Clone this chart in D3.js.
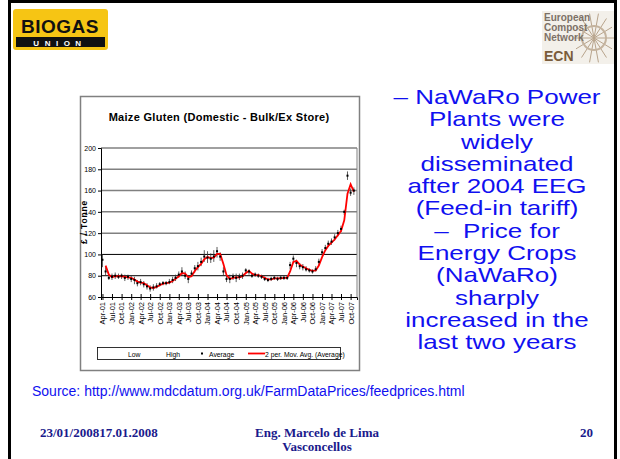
<!DOCTYPE html>
<html>
<head>
<meta charset="utf-8">
<script src="https://cdn.jsdelivr.net/npm/d3@7/dist/d3.min.js"></script>
<style>
body { margin: 0; background: #fff; }
svg text { font-family: Arial, "Liberation Sans", sans-serif; }
</style>
</head>
<body>
<div id="slide"></div>
<script>
const W = 620, H = 459;
const plotLeft = 101, plotRight = 357, plotTop = 148, plotBottom = 297;

// monthly prices Apr-01 .. Nov-07
const firstMonth = '2001-04';
const avgPrice = [
    95, 84, 78, 79, 80, 79, 80, 78, 79,
    77, 76, 73, 74, 72, 70, 68, 69, 70, 72, 73, 73,
    74, 76, 78, 81, 84, 80, 77, 82, 87, 89, 93, 98,
    97, 96, 98, 103, 98, 84, 77, 77, 79, 78, 79, 80,
    85, 84, 80, 81, 80, 79, 77, 76, 77, 78, 77, 78,
    78, 78, 90, 96, 92, 89, 88, 86, 85, 84, 86, 93,
    102, 106, 110, 112, 116, 120, 124, 140, 174, 158, 160
];
const lowPrice = [
    88, 80, 76, 76, 77, 77, 77, 75, 76,
    74, 72, 70, 71, 69, 67, 65, 66, 68, 70, 71, 71,
    72, 73, 75, 78, 80, 77, 73, 79, 83, 85, 89, 93,
    92, 92, 93, 97, 94, 80, 74, 73, 76, 74, 76, 77,
    82, 81, 78, 79, 78, 77, 75, 74, 75, 76, 75, 76,
    76, 76, 86, 92, 88, 86, 85, 84, 83, 82, 84, 90,
    99, 104, 107, 109, 113, 117, 121, 137, 170, 155, 156
];
const highPrice = [
    100, 88, 81, 82, 83, 82, 82, 81, 81,
    80, 79, 76, 77, 75, 73, 71, 72, 73, 74, 75, 75,
    77, 79, 81, 84, 88, 84, 80, 85, 90, 93, 97, 104,
    103, 101, 104, 107, 102, 88, 80, 81, 82, 82, 82, 83,
    87, 86, 82, 83, 82, 81, 79, 78, 79, 80, 79, 80,
    80, 80, 93, 99, 95, 92, 91, 89, 87, 86, 89, 96,
    105, 109, 113, 115, 119, 123, 127, 142, 178, 162, 163
];
const yTicks = [60, 80, 100, 120, 140, 160, 180, 200];
const quarterLabels = [
    'Apr-01', 'Jul-01', 'Oct-01', 'Jan-02', 'Apr-02', 'Jul-02', 'Oct-02',
    'Jan-03', 'Apr-03', 'Jul-03', 'Oct-03', 'Jan-04', 'Apr-04', 'Jul-04', 'Oct-04',
    'Jan-05', 'Apr-05', 'Jul-05', 'Oct-05', 'Jan-06', 'Apr-06', 'Jul-06', 'Oct-06',
    'Jan-07', 'Apr-07', 'Jul-07', 'Oct-07'
];
const legendItems = ['Low', 'High', 'Average', '2 per. Mov. Avg. (Average)'];

const block1 = ['– NaWaRo Power', 'Plants were', 'widely', 'disseminated', 'after 2004 EEG', '(Feed-in tariff)'];
const block2 = ['–  Price for', 'Energy Crops', '(NaWaRo)', 'sharply', 'increased in the', 'last two years'];

const blue = '#1010f0', navy = '#1a1a8c';

let svg = d3.select('#slide').append('svg')
    .attr('width', W).attr('height', H);

// slide frame
svg.append('rect').attr('x', 9.5).attr('y', 1.5).attr('width', 606).attr('height', H + 10)
    .attr('fill', 'none').attr('stroke', '#000').attr('stroke-width', 3);

// ---- BIOGAS UNION logo
let bio = svg.append('g');
bio.append('rect').attr('x', 13).attr('y', 9).attr('width', 95).attr('height', 41).attr('rx', 3)
    .attr('fill', '#f6c514');
bio.append('text').attr('x', 60).attr('y', 33).attr('text-anchor', 'middle')
    .attr('font-size', 19).attr('font-weight', 'bold').attr('letter-spacing', 0.5)
    .attr('fill', '#111').text('BIOGAS');
bio.append('rect').attr('x', 16).attr('y', 37).attr('width', 89).attr('height', 10).attr('fill', '#111');
bio.append('text').attr('x', 60).attr('y', 45.5).attr('text-anchor', 'middle')
    .attr('font-size', 8).attr('font-weight', 'bold').attr('letter-spacing', 5.5)
    .attr('fill', '#fff').text('UNION');

// ---- ECN logo
let ecn = svg.append('g');
ecn.append('rect').attr('x', 542).attr('y', 11).attr('width', 72).attr('height', 53).attr('fill', '#f3f0ea');
d3.range(14).forEach(i => {
    let a = i / 14 * 2 * Math.PI;
    ecn.append('line').attr('x1', 594).attr('y1', 38)
        .attr('x2', 594 + Math.cos(a) * 20).attr('y2', 38 + Math.sin(a) * 25)
        .attr('stroke', '#b8a48c').attr('stroke-width', 1);
});
ecn.append('circle').attr('cx', 594).attr('cy', 38).attr('r', 12)
    .attr('fill', 'none').attr('stroke', '#c4b39e').attr('stroke-width', 2);
['European', 'Compost', 'Network'].forEach((t, i) => {
    ecn.append('text').attr('x', 544).attr('y', 21 + i * 10).attr('font-size', 10)
        .attr('font-weight', 'bold').attr('fill', '#7d7166').text(t);
});
ecn.append('text').attr('x', 544).attr('y', 61).attr('font-size', 14)
    .attr('font-weight', 'bold').attr('fill', '#7a5c3a').text('ECN');

// ---- chart
let chart = svg.append('g');
chart.append('rect').attr('x', 80.5).attr('y', 96.5).attr('width', 279).attr('height', 274)
    .attr('fill', '#fff').attr('stroke', '#808080').attr('stroke-width', 1.5);
chart.append('text').attr('x', 219).attr('y', 121).attr('text-anchor', 'middle')
    .attr('font-size', 11).attr('font-weight', 'bold').attr('letter-spacing', 0.3)
    .text('Maize Gluten (Domestic - Bulk/Ex Store)');

let parseMonth = d3.timeParse('%Y-%m');
let parseQuarter = d3.timeParse('%b-%y');
let months = avgPrice.map((d, i) => d3.timeMonth.offset(parseMonth(firstMonth), i));

let x = d3.scaleTime()
    .domain([new Date(2001, 2, 18), new Date(2007, 11, 1)])
    .range([plotLeft, plotRight]);
let y = d3.scaleLinear().domain([60, 200]).range([plotBottom, plotTop]);

// gridlines - the lower ones come out darker in the picture
chart.append('g').selectAll('line').data(yTicks.slice(1)).join('line')
    .attr('x1', plotLeft).attr('x2', plotRight)
    .attr('y1', d => y(d)).attr('y2', d => y(d))
    .attr('stroke', d => d <= 100 ? '#000' : '#808080')
    .attr('stroke-width', d => d <= 100 ? 1 : 1.5);
chart.append('line').attr('x1', plotRight).attr('x2', plotRight).attr('y1', plotTop).attr('y2', plotBottom)
    .attr('stroke', '#808080');

let yAxis = chart.append('g').attr('transform', 'translate(' + plotLeft + ',0)')
    .call(d3.axisLeft(y).tickValues(yTicks).tickSize(3).tickPadding(2));
yAxis.select('.domain').attr('stroke', '#000');
yAxis.selectAll('text').attr('font-size', 7).attr('font-family', 'Arial, sans-serif');

let xAxis = chart.append('g').attr('transform', 'translate(0,' + plotBottom + ')')
    .call(d3.axisBottom(x).tickValues(quarterLabels.map(parseQuarter))
        .tickFormat(d3.timeFormat('%b-%y')).tickSize(3).tickPadding(3));
xAxis.select('.domain').attr('stroke', '#000');
xAxis.selectAll('.tick line').attr('y1', -3);
xAxis.selectAll('text')
    .attr('font-size', 7.5).attr('font-family', 'Arial, sans-serif')
    .attr('transform', 'rotate(-90)')
    .attr('text-anchor', 'end').attr('dy', '0.32em').attr('x', -5).attr('y', 0);

chart.append('text').attr('transform', 'translate(87,222) rotate(-90)')
    .attr('text-anchor', 'middle').attr('font-size', 8.5).attr('font-weight', 'bold')
    .attr('font-family', '"Liberation Serif", serif').attr('letter-spacing', 0.8)
    .text('£ / Tonne');

// high-low bars
chart.append('g').selectAll('line').data(months).join('line')
    .attr('x1', d => x(d)).attr('x2', d => x(d))
    .attr('y1', (d, i) => y(lowPrice[i])).attr('y2', (d, i) => y(highPrice[i]))
    .attr('stroke', '#333').attr('stroke-width', 0.8);

// 2 period moving average
let movAvg = avgPrice.map((d, i) => i === 0 ? null : (avgPrice[i - 1] + d) / 2);
chart.append('path')
    .datum(months.map((d, i) => [d, movAvg[i]]).filter(d => d[1] !== null))
    .attr('d', d3.line().x(d => x(d[0])).y(d => y(d[1])))
    .attr('fill', 'none').attr('stroke', '#ff0000').attr('stroke-width', 1.8);

// average markers
chart.append('g').selectAll('rect').data(months).join('rect')
    .attr('x', d => x(d) - 1).attr('y', (d, i) => y(avgPrice[i]) - 1)
    .attr('width', 2).attr('height', 2).attr('fill', '#000');

// legend
let legend = chart.append('g');
legend.append('rect').attr('x', 97.5).attr('y', 347.5).attr('width', 243).attr('height', 12)
    .attr('fill', '#fff').attr('stroke', '#000').attr('stroke-width', 0.8);
let lg = { font: 6.8, y: 356.5 };
legend.append('text').attr('x', 128).attr('y', lg.y).attr('font-size', lg.font).text(legendItems[0]);
legend.append('text').attr('x', 166).attr('y', lg.y).attr('font-size', lg.font).text(legendItems[1]);
legend.append('rect').attr('x', 201).attr('y', 352.5).attr('width', 2).attr('height', 2).attr('fill', '#000');
legend.append('text').attr('x', 209).attr('y', lg.y).attr('font-size', lg.font).text(legendItems[2]);
legend.append('line').attr('x1', 248).attr('x2', 265).attr('y1', 353.5).attr('y2', 353.5)
    .attr('stroke', '#ff0000').attr('stroke-width', 1.8);
legend.append('text').attr('x', 265).attr('y', lg.y).attr('font-size', lg.font).text(legendItems[3]);

// ---- bullet text on the right (set wide, as in the slide)
let lines = block1.concat(block2);
svg.append('g').attr('transform', 'translate(497,0) scale(1.3,1)')
    .selectAll('text').data(lines).join('text')
    .attr('x', 0).attr('y', (d, i) => 104 + i * 22.3)
    .attr('text-anchor', 'middle').attr('font-size', 20).attr('fill', blue)
    .attr('xml:space', 'preserve').style('white-space', 'pre')
    .text(d => d);

// ---- source and footer
svg.append('text').attr('x', 32).attr('y', 396).attr('font-size', 14).attr('fill', blue)
    .text('Source: http://www.mdcdatum.org.uk/FarmDataPrices/feedprices.html');

let foot = svg.append('g').attr('font-family', '"Liberation Serif", "Times New Roman", serif')
    .attr('font-weight', 'bold').attr('font-size', 13).attr('fill', navy);
foot.append('text').attr('x', 40).attr('y', 437).style('font-family', 'inherit').text('23/01/200817.01.2008');
foot.append('text').attr('x', 317).attr('y', 437).attr('text-anchor', 'middle').style('font-family', 'inherit').text('Eng. Marcelo de Lima');
foot.append('text').attr('x', 317).attr('y', 451).attr('text-anchor', 'middle').style('font-family', 'inherit').text('Vasconcellos');
foot.append('text').attr('x', 593).attr('y', 437).attr('text-anchor', 'end').style('font-family', 'inherit').text('20');
</script>
</body>
</html>
